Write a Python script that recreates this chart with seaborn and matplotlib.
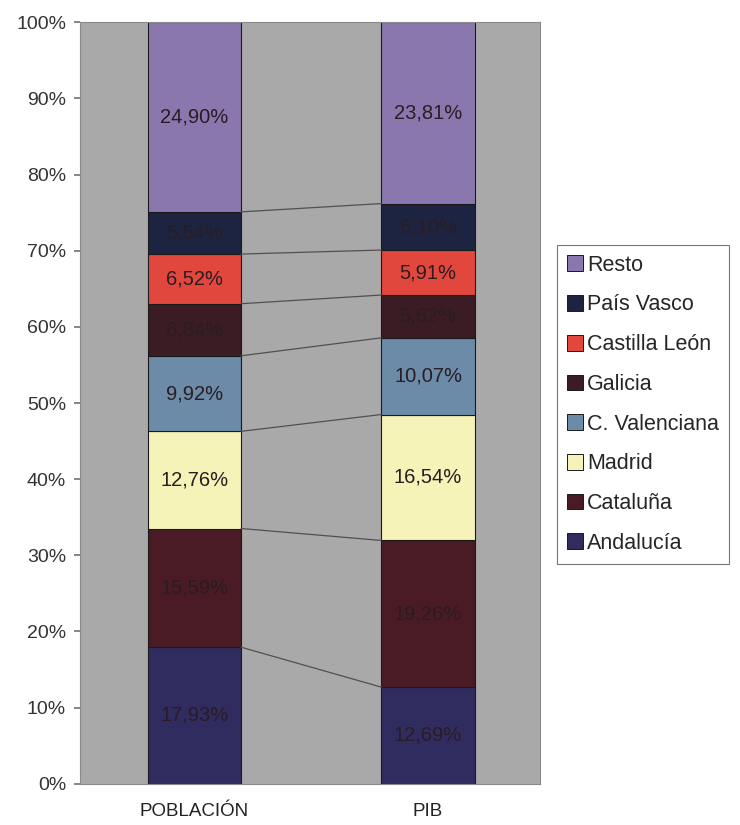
import matplotlib
matplotlib.use("Agg")
import matplotlib.pyplot as plt
import seaborn as sns
import pandas as pd
import numpy as np
from matplotlib.patches import Patch

# ── Data ────────────────────────────────────────────────────
categories = ["POBLACIÓN", "PIB"]
regions = ["Andalucía", "Cataluña", "Madrid", "C. Valenciana",
           "Galicia", "Castilla León", "País Vasco", "Resto"]
poblacion = [17.93, 15.59, 12.76, 9.92, 6.84, 6.52, 5.54, 24.90]
pib = [12.69, 19.26, 16.54, 10.07, 5.62, 5.91, 6.10, 23.81]
labels_poblacion = ["17,93%", "15,59%", "12,76%", "9,92%", "6,84%", "6,52%", "5,54%", "24,90%"]
labels_pib = ["12,69%", "19,26%", "16,54%", "10,07%", "5,62%", "5,91%", "6,10%", "23,81%"]
colors = ["#312c60", "#4a1b25", "#f6f3b8", "#6b8ba8",
          "#3b1c24", "#e2473d", "#1c2442", "#8a77ad"]

# ── Style ───────────────────────────────────────────────────
sns.set_theme(style="white")
plt.rcParams["font.family"] = ["Liberation Sans", "DejaVu Sans"]

df = pd.DataFrame({"region": regions, "POBLACIÓN": poblacion, "PIB": pib})
long = df.melt(id_vars="region", var_name="cat", value_name="pct")

fig = plt.figure(figsize=(7.4, 8.25), dpi=100)
ax = fig.add_axes([0.108, 0.05, 0.622, 0.923])
ax.set_facecolor("#a9a9a9")

bar_w = 0.40
bottoms = np.zeros(len(categories))
for reg, col in zip(regions, colors):
    sub = long[long["region"] == reg].set_index("cat").loc[categories].reset_index()
    sns.barplot(data=sub, x="cat", y="pct", order=categories, color=col,
                width=bar_w, bottom=bottoms, edgecolor="#1a1a1a", linewidth=0.8,
                saturation=1, ax=ax)
    bottoms = bottoms + sub["pct"].values

# series lines between the two stacks
cum_pob = np.cumsum(poblacion)
cum_pib = np.cumsum(pib)
for a, b in zip(cum_pob[:-1], cum_pib[:-1]):
    ax.plot([0 + bar_w / 2, 1 - bar_w / 2], [a, b], color="#505050", linewidth=0.9, zorder=1)

# value labels
for i, (vals, labs) in enumerate([(poblacion, labels_poblacion), (pib, labels_pib)]):
    base = 0
    for v, lab in zip(vals, labs):
        ax.text(i, base + v / 2, lab, ha="center", va="center", fontsize=14.5,
                color="#2a1c22")
        base += v

ax.set_xlim(-0.49, 1.48)
ax.set_ylim(0, 100)
ax.set_yticks(range(0, 101, 10))
ax.set_yticklabels([f"{t}%" for t in range(0, 101, 10)], fontsize=14, color="#333333")
ax.set_xticks([0, 1])
ax.set_xticklabels(categories, fontsize=13.5, color="#222222")
ax.set_xlabel("")
ax.set_ylabel("")
ax.tick_params(axis="y", length=4, color="#777777", pad=6, left=True)
ax.tick_params(axis="x", length=0, pad=14)
for s in ax.spines.values():
    s.set_color("#8a8a8a")
    s.set_linewidth(0.8)

# legend (reverse order like the original)
handles = [Patch(facecolor=c, edgecolor="#1a1a1a", linewidth=0.7) for c in colors][::-1]
leg = fig.legend(handles, regions[::-1], loc="upper left",
                 bbox_to_anchor=(0.753, 0.703), fontsize=15.5,
                 frameon=True, fancybox=False, edgecolor="#555555",
                 handlelength=0.75, handleheight=0.75, handletextpad=0.2,
                 labelspacing=0.87, borderpad=0.45, borderaxespad=0)
leg.get_frame().set_linewidth(0.8)

fig.savefig("out.png", dpi=100, facecolor="white")
